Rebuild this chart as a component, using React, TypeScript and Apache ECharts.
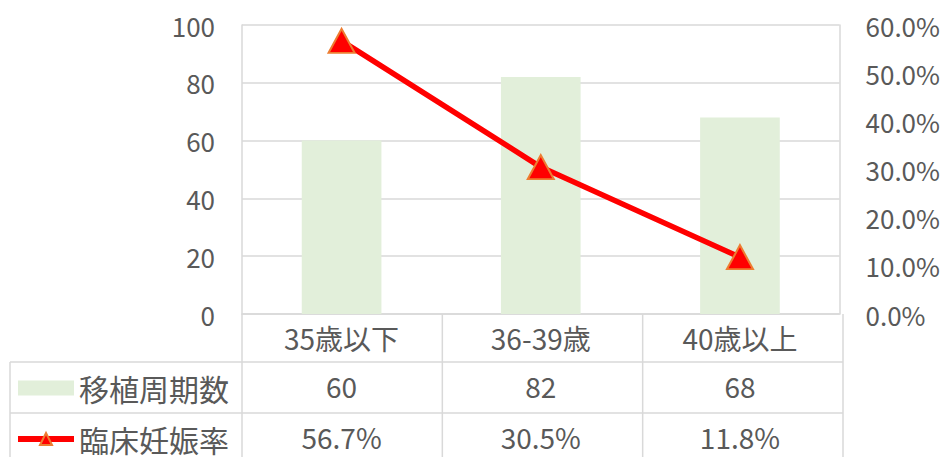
import React, { useEffect, useRef } from "react";
import * as echarts from "echarts";

const categories = ["35歳以下", "36-39歳", "40歳以上"];
const transferCycles = [60, 82, 68];
const pregnancyRate = [0.567, 0.305, 0.118];
const seriesNames = ["移植周期数", "臨床妊娠率"];

const FONT = "'Noto Sans CJK JP', 'Noto Sans', sans-serif";
const TEXT = "#595959";
const GRIDC = "#D9D9D9";

const L = 242, R = 843, T = 25, B = 314;
const ROW1 = 362, ROW2 = 413, H = 457;

const pct = (v: number) => (v * 100).toFixed(1) + "%";

export default function App() {
  const ref = useRef<HTMLDivElement>(null);
  useEffect(() => {
    if (!ref.current) return;
    const chart = echarts.init(ref.current, undefined, { renderer: "svg" });
    const colX = [L, L + (R - L) / 3, L + (2 * (R - L)) / 3, R];
    const lineStyle = { stroke: GRIDC, lineWidth: 1.5 };
    const graphics: any[] = [];
    colX.forEach((x) =>
      graphics.push({ type: "line", silent: true, shape: { x1: x, y1: B, x2: x, y2: H }, style: lineStyle })
    );
    [ROW1, ROW2].forEach((y) =>
      graphics.push({ type: "line", silent: true, shape: { x1: 10, y1: y, x2: R, y2: y }, style: lineStyle })
    );
    graphics.push({ type: "line", silent: true, shape: { x1: 10, y1: ROW1, x2: 10, y2: H }, style: lineStyle });

    const tableAxis = (offset: number, fmt: (i: number) => string) => ({
      type: "category",
      data: categories,
      position: "bottom",
      gridIndex: 0,
      offset,
      axisLine: { show: false },
      axisTick: { show: false },
      splitLine: { show: false },
      axisLabel: {
        interval: 0,
        margin: 9,
        color: TEXT,
        fontFamily: FONT,
        fontSize: 28,
        lineHeight: 30,
        formatter: (_v: string, i: number) => fmt(i),
      },
    });

    chart.setOption({
      animation: false,
      backgroundColor: "#ffffff",
      grid: { left: L, right: 943 - R, top: T, bottom: 457 - B, containLabel: false },
      legend: {
        orient: "vertical",
        left: 15,
        top: 373,
        padding: 0,
        itemWidth: 56,
        itemHeight: 15,
        itemGap: 21,
        selectedMode: false,
        textStyle: { color: TEXT, fontFamily: FONT, fontSize: 30, lineHeight: 30 },
        data: [
          { name: seriesNames[0], icon: "rect" },
          { name: seriesNames[1], lineStyle: { width: 6 } },
        ],
      },
      xAxis: [
        {
          type: "category",
          data: categories,
          position: "bottom",
          axisLine: { show: true, lineStyle: { color: GRIDC, width: 1.5 } },
          axisTick: { show: false },
          axisLabel: {
            interval: 0,
            margin: 9,
            color: TEXT,
            fontFamily: FONT,
            fontSize: 28,
            lineHeight: 30,
          },
        },
        tableAxis(48, (i) => String(transferCycles[i])),
        tableAxis(99, (i) => pct(pregnancyRate[i])),
      ],
      yAxis: [
        {
          type: "value",
          min: 0,
          max: 100,
          interval: 20,
          position: "left",
          axisLine: { show: true, lineStyle: { color: GRIDC, width: 1.5 } },
          axisTick: { show: false },
          splitLine: { show: true, lineStyle: { color: GRIDC, width: 1.5 } },
          axisLabel: { color: TEXT, fontFamily: FONT, fontSize: 26, margin: 27 },
        },
        {
          type: "value",
          min: 0,
          max: 0.6,
          interval: 0.1,
          position: "right",
          axisLine: { show: true, lineStyle: { color: GRIDC, width: 1.5 } },
          axisTick: { show: false },
          splitLine: { show: false },
          axisLabel: {
            color: TEXT,
            fontFamily: FONT,
            fontSize: 26,
            margin: 26,
            formatter: (v: number) => pct(v),
          },
        },
      ],
      series: [
        {
          name: seriesNames[0],
          type: "bar",
          xAxisIndex: 0,
          yAxisIndex: 0,
          data: transferCycles,
          barWidth: "40%",
          itemStyle: { color: "#E2EFDA" },
        },
        {
          name: seriesNames[1],
          type: "line",
          xAxisIndex: 0,
          yAxisIndex: 1,
          data: pregnancyRate,
          symbol: "triangle",
          symbolSize: [26, 24],
          lineStyle: { color: "#FF0000", width: 5.5 },
          itemStyle: { color: "#FF0000", borderColor: "#ED7D31", borderWidth: 2 },
        },
      ],
      graphic: graphics,
    });
    return () => chart.dispose();
  }, []);
  return <div ref={ref} style={{ width: 943, height: 457, position: "absolute", left: 0, top: 0 }} />;
}
